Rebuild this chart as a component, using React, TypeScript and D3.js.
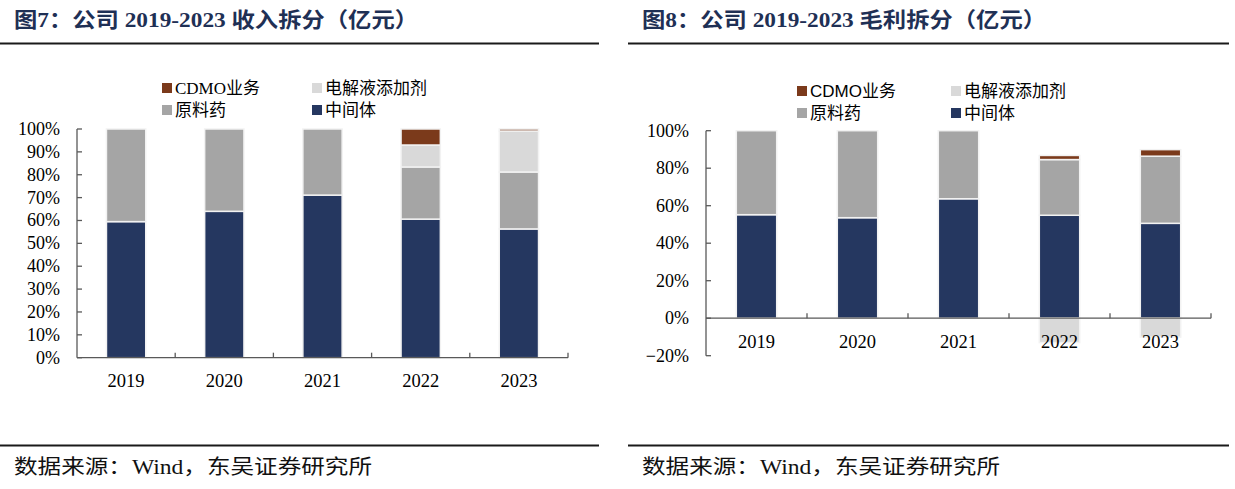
import { useEffect, useRef } from "react";
import * as d3 from "d3";

const years = ["2019", "2020", "2021", "2022", "2023"];
const seriesKeys = ["中间体", "原料药", "电解液添加剂", "CDMO业务"];
const legendOrder = ["CDMO业务", "电解液添加剂", "原料药", "中间体"];
const colors: Record<string, string> = {
  中间体: "#253760",
  原料药: "#a5a5a5",
  电解液添加剂: "#d9d9d9",
  CDMO业务: "#7b3a1b",
};

// 图7 收入拆分 (share of revenue, %)
const revMid = [59.5, 64.0, 71.1, 60.6, 56.3];
const revApi = [40.5, 36.0, 28.9, 22.8, 24.9];
const revElec = [0, 0, 0, 9.6, 17.9];
const revCdmo = [0, 0, 0, 7.0, 0.9];
const revTicks = [0, 10, 20, 30, 40, 50, 60, 70, 80, 90, 100];

// 图8 毛利拆分 (share of gross profit, %)
const gpMid = [55.2, 53.6, 63.7, 54.9, 50.6];
const gpApi = [44.8, 46.4, 36.3, 29.7, 35.8];
const gpElec = [0, 0, 0, -13.0, -10.1];
const gpCdmo = [0, 0, 0, 2.2, 3.5];
const gpTicks = [-20, 0, 20, 40, 60, 80, 100];

const serif = "'Liberation Serif', 'Times New Roman', 'Noto Sans CJK SC', serif";
const cjk = "'Liberation Serif', 'Noto Sans CJK SC', serif";

type Panel = {
  left: number;
  title: string;
  titleLen: number;
  mid: number[];
  api: number[];
  elec: number[];
  cdmo: number[];
  ticks: number[];
  xRange: [number, number];
  yRange: [number, number];
  yearY: number;
  legendX: [number, number];
  legendY: [number, number];
  legendFont: string;
};

const panels: Panel[] = [
  {
    left: 0,
    title: "图7：公司 2019-2023 收入拆分（亿元）",
    titleLen: 404,
    mid: revMid, api: revApi, elec: revElec, cdmo: revCdmo,
    ticks: revTicks,
    xRange: [77, 568],
    yRange: [357.7, 129],
    yearY: 387,
    legendX: [162, 312],
    legendY: [88, 110],
    legendFont: serif,
  },
  {
    left: 628,
    title: "图8：公司 2019-2023 毛利拆分（亿元）",
    titleLen: 404,
    mid: gpMid, api: gpApi, elec: gpElec, cdmo: gpCdmo,
    ticks: gpTicks,
    xRange: [706, 1211],
    yRange: [355.7, 130.7],
    yearY: 348,
    legendX: [797, 951],
    legendY: [91, 113],
    legendFont: "'Liberation Sans', Arial, 'Noto Sans CJK SC', sans-serif",
  },
];

const App = () => {
  const svgRef = useRef<SVGSVGElement>(null);

  useEffect(() => {
    if (!svgRef.current) return;
    const svg = d3.select(svgRef.current);
    svg.selectAll("*").remove();

    panels.forEach((p) => {
      const g = svg.append("g");

      // title + rules
      g.append("text")
        .attr("x", p.left + 14)
        .attr("y", 27)
        .attr("font-family", cjk)
        .attr("font-weight", "bold")
        .attr("font-size", 21)
        .attr("fill", "#1f3055")
        .attr("textLength", p.titleLen)
        .attr("lengthAdjust", "spacingAndGlyphs")
        .text(p.title);
      g.append("rect").attr("x", p.left).attr("y", 42.5).attr("width", p.left ? 601 : 599).attr("height", 2).attr("fill", "#1a1a1a");
      g.append("rect").attr("x", p.left).attr("y", 444.5).attr("width", p.left ? 601 : 599).attr("height", 2).attr("fill", "#1a1a1a");
      g.append("text")
        .attr("x", p.left + 14)
        .attr("y", 474)
        .attr("font-family", cjk)
        .attr("font-size", 20)
        .attr("fill", "#111")
        .attr("textLength", 358)
        .attr("lengthAdjust", "spacingAndGlyphs")
        .text("数据来源：Wind，东吴证券研究所");

      const rows = years.map((y, i) => ({
        year: y,
        中间体: p.mid[i] / 100,
        原料药: p.api[i] / 100,
        电解液添加剂: p.elec[i] / 100,
        CDMO业务: p.cdmo[i] / 100,
      }));
      const stacked = d3.stack<any>().keys(seriesKeys).offset(d3.stackOffsetDiverging)(rows);

      const x = d3.scaleBand().domain(years).range(p.xRange).paddingInner(0.6).paddingOuter(0.3);
      const ext = d3.extent(p.ticks) as [number, number];
      const y = d3.scaleLinear().domain([ext[0] / 100, ext[1] / 100]).range(p.yRange);

      // bars
      stacked.forEach((s) => {
        g.append("g")
          .selectAll("rect")
          .data(s.filter((d) => d[1] - d[0] !== 0))
          .join("rect")
          .attr("x", (d: any) => x(d.data.year)!)
          .attr("width", x.bandwidth())
          .attr("y", (d) => y(Math.max(d[0], d[1])))
          .attr("height", (d) => Math.abs(y(d[0]) - y(d[1])))
          .attr("fill", colors[s.key])
          .attr("stroke", "#f2f2f2")
          .attr("stroke-width", 1.5);
      });

      const axisColor = "#595959";
      const x0 = p.xRange[0], x1 = p.xRange[1];
      const yZero = y(0);

      // y axis
      g.append("line")
        .attr("x1", x0).attr("x2", x0)
        .attr("y1", y(ext[0] / 100)).attr("y2", y(ext[1] / 100))
        .attr("stroke", axisColor).attr("stroke-width", 1.3);
      g.selectAll(".ytick")
        .data(p.ticks)
        .join("line")
        .attr("x1", x0).attr("x2", x0 + 5)
        .attr("y1", (t) => y(t / 100)).attr("y2", (t) => y(t / 100))
        .attr("stroke", axisColor).attr("stroke-width", 1.3);
      g.selectAll(".ylab")
        .data(p.ticks)
        .join("text")
        .attr("x", x0 - 17)
        .attr("y", (t) => y(t / 100) + 6)
        .attr("text-anchor", "end")
        .attr("font-family", serif)
        .attr("font-size", 18)
        .attr("fill", "#000")
        .text((t) => d3.format(".0%")(t / 100));

      // x axis
      g.append("line")
        .attr("x1", x0).attr("x2", x1)
        .attr("y1", yZero).attr("y2", yZero)
        .attr("stroke", axisColor).attr("stroke-width", 1.3);
      g.selectAll(".xtick")
        .data(years)
        .join("line")
        .attr("x1", (d) => x(d)! + x.bandwidth() / 2 + x.step() / 2)
        .attr("x2", (d) => x(d)! + x.bandwidth() / 2 + x.step() / 2)
        .attr("y1", yZero).attr("y2", yZero - 5)
        .attr("stroke", axisColor).attr("stroke-width", 1.3);
      g.selectAll(".xlab")
        .data(years)
        .join("text")
        .attr("x", (d) => x(d)! + x.bandwidth() / 2)
        .attr("y", p.yearY)
        .attr("text-anchor", "middle")
        .attr("font-family", serif)
        .attr("font-size", 18.5)
        .attr("fill", "#000")
        .text((d) => d);

      // legend
      legendOrder.forEach((k, i) => {
        const lx = p.legendX[i % 2];
        const ly = p.legendY[Math.floor(i / 2)];
        g.append("rect")
          .attr("x", lx).attr("y", ly - 5)
          .attr("width", 10).attr("height", 10)
          .attr("fill", colors[k]);
        g.append("text")
          .attr("x", lx + 13)
          .attr("y", ly + 6)
          .attr("font-family", p.legendFont)
          .attr("font-size", 17)
          .attr("fill", "#000")
          .text(k);
      });
    });
  }, []);

  return (
    <svg
      ref={svgRef}
      width={1235}
      height={489}
      style={{ position: "absolute", left: 0, top: 0, background: "#fff" }}
    />
  );
};

export default App;
